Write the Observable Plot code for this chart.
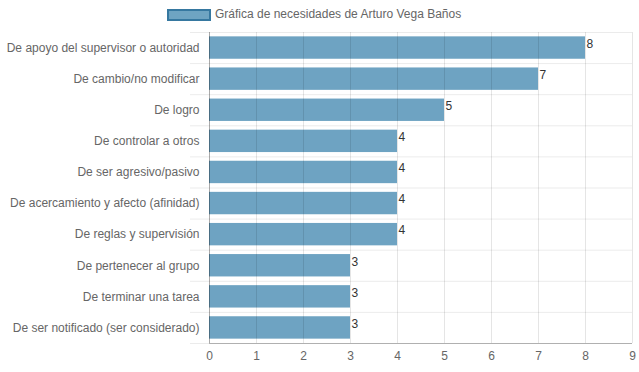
<!DOCTYPE html>
<html>
<head>
<meta charset="utf-8">
<script src="https://cdn.jsdelivr.net/npm/d3@7"></script>
<script src="https://cdn.jsdelivr.net/npm/@observablehq/plot@0.6"></script>
<style>
  html, body { margin: 0; padding: 0; background: #fff; }
  body { width: 639px; height: 372px; overflow: hidden; font-family: "Liberation Sans", Arial, sans-serif; }
  #legend { height: 28px; position: relative; }
  #legend .box { position: absolute; left: 167px; top: 9px; width: 40px; height: 8px; background: rgb(110,164,194); border: 2px solid rgb(54,120,160); }
  #legend .label { position: absolute; left: 215px; top: 6px; font-size: 12px; color: #666; line-height: 16px; }
</style>
</head>
<body>
<div id="legend"><div class="box"></div><div class="label">Gráfica de necesidades de Arturo Vega Baños</div></div>
<div id="chart"></div>
<script>
const categories = [
  "De apoyo del supervisor o autoridad",
  "De cambio/no modificar",
  "De logro",
  "De controlar a otros",
  "De ser agresivo/pasivo",
  "De acercamiento y afecto (afinidad)",
  "De reglas y supervisión",
  "De pertenecer al grupo",
  "De terminar una tarea",
  "De ser notificado (ser considerado)"
];
const values = [8, 7, 5, 4, 4, 4, 4, 3, 3, 3];
const xTicks = [0, 1, 2, 3, 4, 5, 6, 7, 8, 9];

const rows = categories.map((c, i) => ({category: c, value: values[i], i}));
const bandEdges = d3.range(categories.length + 1);
const bandCenters = d3.range(categories.length).map(i => i + 0.5);

const chart = Plot.plot({
  width: 639,
  height: 344,
  marginLeft: 209,
  marginRight: 7,
  marginTop: 4,
  marginBottom: 29,
  style: {fontFamily: "'Liberation Sans', Arial, sans-serif", fontSize: "12px", color: "#666", background: "#fff"},
  x: {domain: [0, 9]},
  y: {domain: [0, categories.length], reverse: true},
  marks: [
    Plot.rectX(rows, {x1: 0, x2: "value", y1: d => d.i + 0.14, y2: d => d.i + 0.86, fill: "rgb(54,128,170)", fillOpacity: 0.72}),
    Plot.ruleX(xTicks, {stroke: "#000", strokeOpacity: 0.1}),
    Plot.ruleY(bandEdges, {stroke: "#000", strokeOpacity: 0.08, insetLeft: -19}),
    Plot.ruleX([0], {stroke: "#000", strokeOpacity: 0.25}),
    Plot.ruleY([categories.length], {stroke: "#000", strokeOpacity: 0.25}),
    Plot.text(rows, {x: "value", y: d => d.i + 0.5, text: d => String(d.value), textAnchor: "start", dx: 1, dy: -4, fill: "#333", fontSize: 12}),
    Plot.axisX(xTicks, {tickSize: 0, tickPadding: 8, label: null, fill: "#666", fontSize: 12}),
    Plot.axisY(bandCenters, {tickSize: 0, tickPadding: 10, label: null, tickFormat: v => categories[Math.floor(v)], fill: "#666", fontSize: 12})
  ]
});
document.getElementById("chart").appendChild(chart);
</script>
</body>
</html>
